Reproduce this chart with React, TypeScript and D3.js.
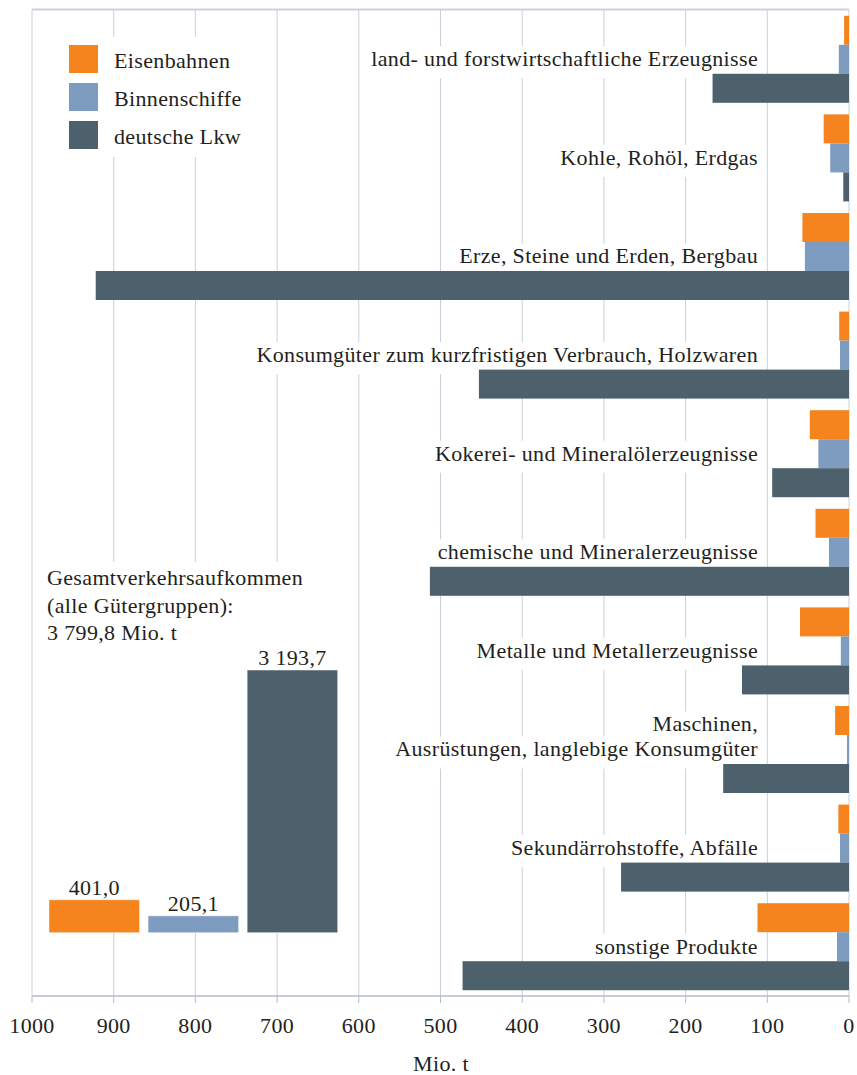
import React, { useEffect, useRef } from "react";
import * as d3 from "d3";

const categories = [
  "land- und forstwirtschaftliche Erzeugnisse",
  "Kohle, Rohöl, Erdgas",
  "Erze, Steine und Erden, Bergbau",
  "Konsumgüter zum kurzfristigen Verbrauch, Holzwaren",
  "Kokerei- und Mineralölerzeugnisse",
  "chemische und Mineralerzeugnisse",
  "Metalle und Metallerzeugnisse",
  "Maschinen,\nAusrüstungen, langlebige Konsumgüter",
  "Sekundärrohstoffe, Abfälle",
  "sonstige Produkte",
];
const seriesNames = ["Eisenbahnen", "Binnenschiffe", "deutsche Lkw"];
const eisenbahnen = [6, 31, 57, 12, 48, 41, 60, 17, 13, 112];
const binnenschiffe = [12.5, 23, 54, 11, 37.5, 24.5, 10, 2.5, 11, 14.7];
const lkw = [167, 7, 922, 453, 94, 513, 131, 154, 279, 473];
const totals = [401.0, 205.1, 3193.7];
const totalLabels = ["401,0", "205,1", "3 193,7"];
const xTicks = [1000, 900, 800, 700, 600, 500, 400, 300, 200, 100, 0];
const noteLines = ["Gesamtverkehrsaufkommen", "(alle Gütergruppen):", "3 799,8 Mio. t"];
const axisTitle = "Mio. t";

const colors = ["#f5841f", "#7e9bc0", "#4c616c"];
const FONT = "'Liberation Serif', 'Times New Roman', serif";
const TEXT = "#231f20";
const GRID = "#c9d0da";

export default function App() {
  const ref = useRef<SVGSVGElement | null>(null);

  useEffect(() => {
    const svg = d3.select(ref.current);
    svg.selectAll("*").remove();
    svg.append("rect").attr("width", 857).attr("height", 1075).attr("fill", "#fff");

    const x = d3.scaleLinear().domain([0, 1000]).range([849, 32]);
    const y0 = d3
      .scaleBand<string>()
      .domain(categories)
      .range([10, 996])
      .paddingInner(0.1176)
      .paddingOuter(0.0588);
    const y1 = d3.scaleBand<string>().domain(seriesNames).range([0, y0.bandwidth()]);
    const data = [eisenbahnen, binnenschiffe, lkw];

    const gGrid = svg.append("g");
    const gBg = svg.append("g");
    const gBars = svg.append("g");
    const gText = svg.append("g")
      .attr("font-family", FONT)
      .attr("font-size", 22)
      .attr("letter-spacing", "0.35px")
      .attr("fill", TEXT);

    // grid lines
    gGrid
      .selectAll("line.grid")
      .data(xTicks)
      .join("line")
      .attr("x1", (d) => x(d))
      .attr("x2", (d) => x(d))
      .attr("y1", 9.5)
      .attr("y2", 996)
      .attr("stroke", GRID)
      .attr("stroke-width", 1);
    gGrid
      .append("line")
      .attr("x1", x(1000))
      .attr("x2", x(0))
      .attr("y1", 9.5)
      .attr("y2", 9.5)
      .attr("stroke", GRID)
      .attr("stroke-width", 2);

    // category labels with white backgrounds
    categories.forEach((c) => {
      const lines = c.split("\n");
      const base = (y0(c) as number) + 50.5;
      lines.forEach((ln, i) => {
        const t = gText
          .append("text")
          .attr("x", 758)
          .attr("y", base - (lines.length - 1 - i) * 25)
          .attr("text-anchor", "end")
          .text(ln);
        const b = (t.node() as SVGTextElement).getBBox();
        gBg
          .append("rect")
          .attr("x", b.x - 3)
          .attr("y", b.y)
          .attr("width", b.width + 6)
          .attr("height", b.height + 7)
          .attr("fill", "#fff");
      });
    });

    // bars
    data.forEach((vals, si) => {
      gBars
        .selectAll(null)
        .data(vals)
        .join("rect")
        .attr("x", (d) => x(d))
        .attr("y", (_d, i) => (y0(categories[i]) as number) + (y1(seriesNames[si]) as number))
        .attr("width", (d) => x(0) - x(d))
        .attr("height", y1.bandwidth())
        .attr("fill", colors[si]);
    });

    // legend background + legend
    gBg.append("rect").attr("x", 40).attr("y", 37).attr("width", 215).attr("height", 120).attr("fill", "#fff");
    seriesNames.forEach((s, i) => {
      gBars
        .append("rect")
        .attr("x", 69)
        .attr("y", 45 + i * 38)
        .attr("width", 29)
        .attr("height", 28)
        .attr("fill", colors[i]);
      gText
        .append("text")
        .attr("x", 114)
        .attr("y", 67.5 + i * 38)
        .text(s);
    });

    // inset: totals
    gBg.append("rect").attr("x", 40).attr("y", 562).attr("width", 305).attr("height", 371).attr("fill", "#fff");
    noteLines.forEach((ln, i) => {
      gText
        .append("text")
        .attr("x", 47)
        .attr("y", 585 + i * 27.5)
        .text(ln);
    });
    const ix = d3.scaleBand<string>().domain(seriesNames).range([49, 337.7]).paddingInner(0.086).paddingOuter(0);
    const iy = d3.scaleLinear().domain([0, 3193.7]).range([932.7, 670]);
    totals.forEach((v, i) => {
      gBars
        .append("rect")
        .attr("x", ix(seriesNames[i]) as number)
        .attr("y", iy(v))
        .attr("width", ix.bandwidth())
        .attr("height", iy(0) - iy(v))
        .attr("fill", colors[i])
        .attr("stroke", "#ffffff")
        .attr("stroke-opacity", 0.5)
        .attr("stroke-width", 1);
      gText
        .append("text")
        .attr("x", (ix(seriesNames[i]) as number) + ix.bandwidth() / 2)
        .attr("y", iy(v) - 5)
        .attr("text-anchor", "middle")
        .text(totalLabels[i]);
    });

    // bottom axis
    const ax = svg.append("g").attr("transform", "translate(0,996)");
    ax.append("line").attr("x1", 32).attr("x2", 849).attr("stroke", "#b3bdcb").attr("stroke-width", 1.5);
    ax.selectAll("line.tick")
      .data(xTicks)
      .join("line")
      .attr("x1", (d) => x(d))
      .attr("x2", (d) => x(d))
      .attr("y1", 0)
      .attr("y2", 7)
      .attr("stroke", "#b3bdcb");
    ax.selectAll("text")
      .data(xTicks)
      .join("text")
      .attr("x", (d) => x(d))
      .attr("y", 37)
      .attr("text-anchor", "middle")
      .attr("font-family", FONT)
      .attr("font-size", 22)
      .attr("letter-spacing", "0.35px")
      .attr("fill", TEXT)
      .text((d) => String(d));
    svg
      .append("text")
      .attr("x", 441)
      .attr("y", 1071)
      .attr("text-anchor", "middle")
      .attr("font-family", FONT)
      .attr("font-size", 22)
      .attr("letter-spacing", "0.35px")
      .attr("fill", TEXT)
      .text(axisTitle);
  }, []);

  return (
    <svg
      ref={ref}
      width={857}
      height={1075}
      style={{ position: "absolute", left: 0, top: 0, display: "block" }}
    />
  );
}
